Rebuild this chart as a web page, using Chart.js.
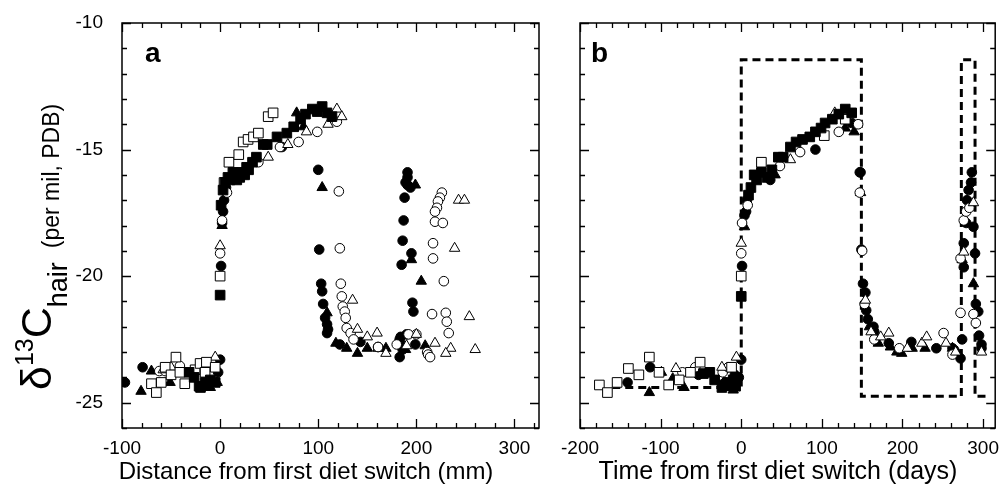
<!DOCTYPE html>
<html>
<head>
<meta charset="utf-8">
<script src="https://cdn.jsdelivr.net/npm/chart.js@4.4.1/dist/chart.umd.min.js"></script>
<style>
  html, body { margin: 0; padding: 0; background: #fff; }
  #wrap { position: relative; width: 1003px; height: 493px; }
  #chartA { position: absolute; left: 0; top: 0; }
  #chartB { position: absolute; left: 560px; top: 0; }
</style>
</head>
<body>
<div id="wrap">
  <canvas id="chartA" width="560" height="493"></canvas>
  <canvas id="chartB" width="443" height="493"></canvas>
</div>
<script>
// ---- data ----
// panel a: distance along hair (mm) vs d13C
const aFilledCircle = [[-97,-24.2],[-79,-23.6],[0,-23.3],[-2,-23.8],[1,-19.6],[2,-17.9],[3,-17.45],[4,-17.0],[6,-16.5],[63,-14.9],
  [100,-15.8],[101,-18.95],[103,-20.3],[104,-20.6],[105,-21.1],[107,-21.65],[109,-21.9],[110,-22.1],[109,-22.25],[122,-22.7],
  [143,-22.6],[161,-22.8],[183,-22.5],[183,-23.2],[199,-22.7],[191,-15.9],[191,-16.1],[189,-16.3],[191,-16.4],[194,-16.5],
  [188,-16.9],[187,-17.8],[186,-18.6],[195,-19.1],[185,-19.55],[196,-21.05],[197,-21.4],[184,-22.4],[186,-22.9],[190,-22.3]];
const aOpenCircle = [[-62,-23.75],[-41,-23.55],[-56,-23.75],[0,-19.1],[2,-17.8],[7,-16.7],[39,-15.5],[61,-14.9],[80,-14.7],[99,-14.3],
  [119,-13.9],[121,-16.65],[122,-18.9],[123,-20.3],[124,-20.8],[125,-21.2],[127,-21.4],[128,-21.65],[129,-22.05],[133,-22.25],
  [136,-22.5],[161,-22.8],[180,-22.7],[200,-22.3],[211,-23.0],[212,-23.1],[214,-23.2],[226,-16.7],[224,-16.9],[222,-17.05],
  [221,-17.3],[219,-17.45],[219,-17.85],[227,-17.9],[217,-18.7],[217,-19.3],[228,-20.2],[216,-21.5],[230,-21.45],[231,-21.8],
  [233,-22.25],[192,-22.3]];
const aFilledTriangle = [[-70,-23.75],[-80.6,-24.55],[-51,-24.2],[-10,-24.4],[-13,-24.4],[-3,-24.2],[2,-18.0],[78,-13.55],[85,-14.1],
  [104,-16.5],[109,-21.45],[118,-22.65],[129,-22.85],[140,-23.05],[150,-22.85],[161,-22.85],[169,-22.85],[189,-22.9],[209,-22.75],
  [199,-16.4],[195,-19.35],[205,-20.2],[186,-22.7]];
const aOpenTriangle = [[-58,-23.7],[-50,-23.6],[-5,-23.2],[0,-18.8],[49,-15.3],[69,-14.8],[88,-14.3],[110,-14.0],[119,-13.4],[124,-13.7],
  [135,-20.95],[140,-22.1],[150,-22.4],[160,-22.25],[169,-23.05],[190,-22.75],[200,-22.3],[219,-22.65],[235,-22.85],[230,-23.05],
  [260,-22.9],[243,-17.0],[249,-17.0],[239,-18.9],[254,-21.6]];
const aFilledSquare = [[-31.6,-23.8],[-26.5,-24.0],[-21.4,-24.35],[-15.3,-24.2],[-5,-24.2],[-10,-24.1],[-20,-24.4],[0,-20.75],
  [1,-17.2],[3,-16.6],[5,-16.3],[8,-16.1],[10,-16.2],[13,-15.9],[15,-16.0],[17,-16.2],[20,-16.1],[22,-15.9],[25,-16.0],[27,-15.7],
  [29,-15.8],[33,-15.5],[37,-15.3],[44,-14.8],[48,-14.8],[58,-14.5],[68,-14.35],[75,-14.1],[82,-13.8],[87,-13.6],[94,-13.4],
  [99,-13.5],[104,-13.3],[109,-13.55],[114,-13.7]];
const aOpenSquare = [[-70,-24.25],[-65,-24.6],[-60,-24.2],[-56,-23.6],[-50,-23.9],[-45,-23.2],[-41,-23.8],[-36,-24.25],[-25.5,-23.7],
  [-20.4,-23.45],[-15.3,-23.8],[-14,-23.4],[-5,-23.6],[0,-20.0],[4,-16.3],[9,-15.5],[19,-15.2],[23.5,-14.7],[28.5,-14.6],
  [34,-14.5],[39,-14.35],[49,-13.7],[54,-13.55]];

// panel b: time (days) vs d13C
const bFilledCircle = [[-141,-24.2],[-113,-23.6],[-53,-23.9],[-20,-24.2],[-8,-23.9],[-3,-24.0],[0,-23.3],[1,-19.6],[4,-17.6],[6,-17.45],
  [7,-17.0],[36,-16.2],[92,-15.0],[137,-13.95],[147,-15.9],[148,-15.9],[149,-18.95],[151,-20.3],[154,-20.65],[155,-21.35],
  [157,-21.7],[164,-22.0],[165,-22.2],[183,-22.65],[211,-22.6],[242,-22.85],[262,-22.85],[272,-23.25],[274,-22.5],[276,-19.65],
  [276,-18.7],[279,-17.9],[280,-17.0],[282,-16.6],[285,-16.3],[286,-15.9],[288,-18.05],[290,-19.1],[291,-21.1],[294,-21.4],
  [295,-22.35],[298,-22.7],[298,-22.85]];
const bOpenCircle = [[-73,-23.8],[-57,-23.6],[-23,-23.8],[-16,-23.6],[0,-19.1],[1,-17.9],[8,-17.2],[48,-15.65],[73,-15.1],[121,-14.3],
  [145,-14.0],[147,-16.7],[150,-19.0],[153,-21.1],[165,-22.5],[196,-22.85],[251,-22.25],[262,-23.1],[272,-21.45],[272,-19.3],
  [276,-17.8],[279,-17.45],[283,-17.3],[288,-21.5],[291,-21.85]];
const bFilledTriangle = [[-114,-24.6],[-99,-23.8],[-85,-24.05],[-71,-24.4],[-15,-24.4],[-10,-24.5],[-5,-24.0],[4,-18.05],[42,-16.0],
  [129,-14.15],[140,-14.3],[148,-16.7],[159,-22.0],[170,-22.65],[185,-22.8],[193,-23.0],[199,-23.05],[212,-22.85],[228,-22.85],
  [262,-22.85],[268,-23.0],[274,-19.35],[288,-20.3]];
const bOpenTriangle = [[-81,-23.65],[-24,-23.6],[-6,-23.2],[0,-18.7],[61,-15.4],[116,-13.55],[154,-20.95],[161,-22.2],[173,-22.4],
  [183,-22.25],[206,-22.85],[224,-22.65],[230,-22.4],[254,-22.65],[266,-23.0],[276,-19.05],[288,-17.1],[298,-23.0]];
const bFilledSquare = [[-47,-23.85],[-39,-23.8],[-33,-24.1],[-24,-24.4],[-23,-24.3],[-17,-24.2],[-10,-24.1],[-7,-24.35],[0,-20.8],
  [9,-16.8],[12,-16.5],[16,-16.0],[19,-16.2],[25,-15.9],[32,-16.1],[38,-15.8],[46,-15.3],[52,-15.3],[61,-14.9],[68,-14.7],
  [76,-14.6],[85,-14.5],[92,-14.3],[99,-14.15],[104,-13.95],[113,-13.8],[121,-13.6],[129,-13.4],[137,-13.55]];
const bOpenSquare = [[-176,-24.3],[-166,-24.6],[-154,-24.2],[-140,-23.65],[-127,-23.9],[-114,-23.2],[-102,-23.8],[-90,-24.3],
  [-77,-24.1],[-63,-23.8],[-51,-23.4],[-12,-23.6],[0,-20.0],[25,-15.5],[103,-14.45],[129,-13.8]];

// diet (dashed step line in panel b)
const dietDays  = [-160, 0, 0, 149, 149, 273, 273, 290, 290, 305];
const dietValue = [-24.4, -24.4, -11.45, -11.45, -24.75, -24.75, -11.45, -11.45, -24.75, -24.75];

// axes
const yRange = [-26, -10];
const yTicks = [-25, -20, -15, -10];
const aXRange = [-100, 325];
const aXTicks = [-100, 0, 100, 200, 300];
const bXRange = [-200, 315];
const bXTicks = [-200, -100, 0, 100, 200, 300];

const tickFont = { family: "'Liberation Sans', Arial, sans-serif", size: 19 };

const toPts = arr => arr.map(p => ({ x: p[0], y: p[1] }));

// marker style for each symbol
function sym(data, style, filled) {
  const radius = style === 'rect' ? 6.8 : (style === 'triangle' ? 6 : 4.8);
  return {
    data: toPts(data),
    pointStyle: style,
    pointRadius: radius,
    pointHoverRadius: radius,
    pointBorderWidth: 1,
    pointBorderColor: '#000',
    pointBackgroundColor: filled ? '#000' : '#fff',
    showLine: false,
    order: 1
  };
}

// box with inward ticks on all four sides, drawn from the scales
const framePlugin = {
  id: 'frame',
  afterDatasetsDraw(chart, args, opts) {
    const { ctx, chartArea: a, scales: { x, y } } = chart;
    ctx.save();
    ctx.strokeStyle = '#000';
    ctx.lineWidth = 1.5;
    ctx.strokeRect(a.left, a.top, a.right - a.left, a.bottom - a.top);
    ctx.lineWidth = 1.3;
    ctx.beginPath();
    for (let v = x.min; v <= x.max + 0.001; v += 20) {
      const px = Math.round(x.getPixelForValue(v)) + 0.5;
      const len = Math.round(v) % 100 === 0 ? 9 : 5;
      ctx.moveTo(px, a.bottom); ctx.lineTo(px, a.bottom - len);
      ctx.moveTo(px, a.top); ctx.lineTo(px, a.top + len);
    }
    for (let v = y.min; v <= y.max + 0.001; v += 1) {
      const py = Math.round(y.getPixelForValue(v)) + 0.5;
      const len = Math.round(v) % 5 === 0 ? 9 : 5;
      ctx.moveTo(a.left, py); ctx.lineTo(a.left + len, py);
      ctx.moveTo(a.right, py); ctx.lineTo(a.right - len, py);
    }
    ctx.stroke();

    // panel letter
    ctx.fillStyle = '#000';
    ctx.font = "bold 28px 'Liberation Sans', Arial, sans-serif";
    ctx.textBaseline = 'alphabetic';
    ctx.textAlign = 'left';
    ctx.fillText(opts.letter, a.left + opts.letterDx, 62);

    // x axis title
    ctx.font = opts.xTitleFont;
    ctx.textAlign = 'center';
    ctx.fillText(opts.xTitle, opts.xTitleX, 479);

    // y axis title (only panel a)
    if (opts.yTitle) {
      ctx.translate(51, 390);
      ctx.rotate(-Math.PI / 2);
      ctx.textAlign = 'left';
      let pos = 0;
      const part = (txt, font, dy) => {
        ctx.font = font;
        ctx.fillText(txt, pos, dy);
        pos += ctx.measureText(txt).width;
      };
      const fam = "'Liberation Sans', Arial, sans-serif";
      part('\u03b4', '43px ' + fam, 0);
      part('13', '25px ' + fam, -18);
      part('C', '43px ' + fam, 0);
      part('hair', '27px ' + fam, 16);
      pos += 14;
      part('(per mil, PDB)', '23px ' + fam, 8);
    }
    ctx.restore();
  }
};

function makeOptions(xRange, xTicks, yWidth, padRight, frameOpts, showYLabels) {
  return {
    responsive: false,
    animation: false,
    events: [],
    layout: { padding: { left: 0, right: padRight, top: 23, bottom: 0 } },
    plugins: { legend: { display: false }, tooltip: { enabled: false }, frame: frameOpts },
    scales: {
      x: {
        type: 'linear',
        min: xRange[0], max: xRange[1],
        grid: { display: false },
        border: { display: false },
        afterBuildTicks: s => { s.ticks = xTicks.map(v => ({ value: v })); },
        afterFit: s => { s.height = 65; },
        ticks: { color: '#000', font: tickFont, padding: 1, maxRotation: 0, autoSkip: false }
      },
      y: {
        type: 'linear',
        min: yRange[0], max: yRange[1],
        grid: { display: false },
        border: { display: false },
        afterBuildTicks: s => { s.ticks = yTicks.map(v => ({ value: v })); },
        afterFit: s => { s.width = yWidth; },
        ticks: { display: showYLabels, color: '#000', font: tickFont, padding: 11, autoSkip: false }
      }
    }
  };
}

new Chart(document.getElementById('chartA'), {
  type: 'scatter',
  data: {
    datasets: [
      sym(aFilledSquare, 'rect', true),
      sym(aOpenSquare, 'rect', false),
      sym(aOpenTriangle, 'triangle', false),
      sym(aOpenCircle, 'circle', false),
      sym(aFilledTriangle, 'triangle', true),
      sym(aFilledCircle, 'circle', true)
    ]
  },
  options: makeOptions(aXRange, aXTicks, 122, 21,
    { letter: 'a', letterDx: 23, xTitle: 'Distance from first diet switch (mm)', xTitleX: 306,
      xTitleFont: "24px 'Liberation Sans', Arial, sans-serif", yTitle: true }, true),
  plugins: [framePlugin]
});

const dietLine = {
  data: dietDays.map((d, i) => ({ x: d, y: dietValue[i] })),
  showLine: true,
  borderColor: '#000',
  borderWidth: 3,
  borderDash: [8, 5],
  pointRadius: 0,
  fill: false,
  order: 5
};

new Chart(document.getElementById('chartB'), {
  type: 'scatter',
  data: {
    datasets: [
      dietLine,
      sym(bFilledSquare, 'rect', true),
      sym(bOpenSquare, 'rect', false),
      sym(bOpenTriangle, 'triangle', false),
      sym(bOpenCircle, 'circle', false),
      sym(bFilledTriangle, 'triangle', true),
      sym(bFilledCircle, 'circle', true)
    ]
  },
  options: makeOptions(bXRange, bXTicks, 12, 6,
    { letter: 'b', letterDx: 11, xTitle: 'Time from first diet switch (days)', xTitleX: 218,
      xTitleFont: "25px 'Liberation Sans', Arial, sans-serif", yTitle: false }, false),
  plugins: [framePlugin]
});
</script>
</body>
</html>
